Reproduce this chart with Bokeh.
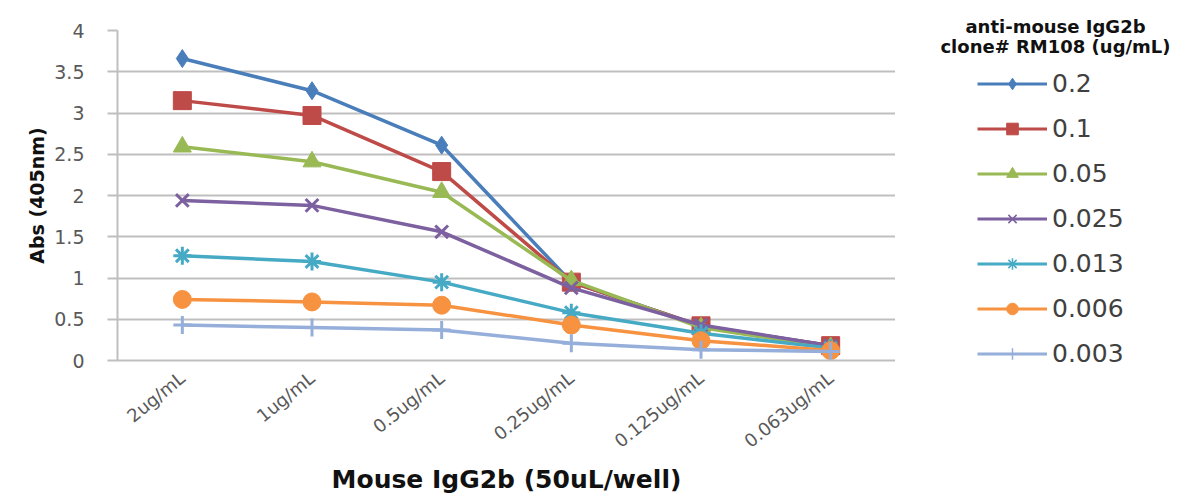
from bokeh.plotting import figure
from bokeh.models import FactorRange, Range1d, Legend, LegendItem, Label, FixedTicker
from bokeh.layouts import row
from bokeh.embed import file_html
from bokeh.resources import INLINE

categories = ["2ug/mL", "1ug/mL", "0.5ug/mL", "0.25ug/mL", "0.125ug/mL", "0.063ug/mL"]
series_names = ["0.2", "0.1", "0.05", "0.025", "0.013", "0.006", "0.003"]
s_02 = [3.66, 3.27, 2.61, 0.95, 0.42, 0.18]
s_01 = [3.15, 2.97, 2.29, 0.95, 0.42, 0.18]
s_005 = [2.59, 2.41, 2.04, 0.97, 0.40, 0.16]
s_0025 = [1.94, 1.88, 1.56, 0.88, 0.43, 0.18]
s_0013 = [1.27, 1.20, 0.95, 0.58, 0.33, 0.15]
s_0006 = [0.74, 0.71, 0.67, 0.43, 0.24, 0.12]
s_0003 = [0.43, 0.40, 0.37, 0.21, 0.13, 0.11]
y_ticks = [0, 0.5, 1, 1.5, 2, 2.5, 3, 3.5, 4]
legend_title = ["anti-mouse IgG2b", "clone# RM108 (ug/mL)"]

values = [s_02, s_01, s_005, s_0025, s_0013, s_0006, s_0003]
colors = ["#4A7EBB", "#BE4B48", "#98B954", "#7D60A0", "#46AAC5", "#F69240", "#95AEDA"]
markers = ["diamond", "square", "triangle", "x", "asterisk", "circle", "cross"]

FONT = "DejaVu Sans"
H = 496
left, top = 117, 30
frame_w, frame_h = 778, 330
bottom = H - top - frame_h
LW = 282

p = figure(width=left + frame_w, height=H, output_backend="svg", toolbar_location=None,
           x_range=FactorRange(*categories, range_padding=0), y_range=Range1d(0, 4),
           min_border_left=left, min_border_right=0, min_border_top=top,
           min_border_bottom=bottom, frame_align=False)
p.outline_line_color = None
p.background_fill_color = "white"

p.xgrid.grid_line_color = None
p.ygrid.grid_line_color = "#BFBFBF"
p.ygrid.grid_line_width = 2
p.yaxis.ticker = FixedTicker(ticks=y_ticks)
p.yaxis.major_label_overrides = {0: "0", 0.5: "0.5", 1: "1", 1.5: "1.5", 2: "2",
                                 2.5: "2.5", 3: "3", 3.5: "3.5", 4: "4"}
p.yaxis.minor_tick_line_color = None
p.yaxis.major_tick_out = 10
p.yaxis.major_tick_in = 0
p.yaxis.major_tick_line_color = "#BFBFBF"
p.yaxis.major_tick_line_width = 2
p.yaxis.axis_line_color = "#BFBFBF"
p.yaxis.axis_line_width = 2
p.yaxis.major_label_text_font = FONT
p.yaxis.major_label_text_font_size = "19px"
p.yaxis.major_label_text_color = "#595959"
p.yaxis.major_label_standoff = 23
p.yaxis.axis_label = "Abs (405nm)"
p.yaxis.axis_label_text_font = FONT
p.yaxis.axis_label_text_font_style = "bold"
p.yaxis.axis_label_text_font_size = "19px"
p.yaxis.axis_label_text_color = "#111111"
p.yaxis.axis_label_standoff = 3

p.xaxis.axis_line_color = "#BFBFBF"
p.xaxis.axis_line_width = 2
p.xaxis.major_tick_line_color = None
p.xaxis.minor_tick_line_color = None
p.xaxis.major_label_orientation = 0.68
p.xaxis.major_label_text_font = FONT
p.xaxis.major_label_text_font_size = "18px"
p.xaxis.major_label_text_color = "#595959"
p.xaxis.major_label_standoff = 9
p.xaxis.axis_label = "Mouse IgG2b (50uL/well)"
p.xaxis.axis_label_text_font = FONT
p.xaxis.axis_label_text_font_style = "bold"
p.xaxis.axis_label_text_font_size = "25px"
p.xaxis.axis_label_text_color = "#111111"
p.xaxis.axis_label_standoff = 2

# legend figure (series drawn off-view, only their legend glyphs show)
q = figure(width=LW, height=H, output_backend="svg", toolbar_location=None,
           x_range=FactorRange(*categories), y_range=Range1d(100, 101),
           x_axis_location=None, y_axis_location=None, min_border=0,
           frame_align=False)
q.outline_line_color = None
q.grid.visible = False

items = []
for name, vals, col, mk in zip(series_names, values, colors, markers):
    lw = 3 if mk in ("x", "asterisk", "cross") else 1
    p.line(categories, vals, line_color=col, line_width=3.5)
    p.scatter(categories, vals, marker=mk, size=18, fill_color=col,
              line_color=col, line_width=lw)
    ln = q.line(categories, vals, line_color=col, line_width=3)
    sc = q.scatter(categories, vals, marker=mk, size=9, fill_color=col,
                   line_color=col, line_width=1.5 if lw == 3 else 1)
    items.append(LegendItem(label=name, renderers=[ln, sc]))

legend = Legend(items=items, location=(82, 128), padding=0, margin=0,
                spacing=16, glyph_width=70, glyph_height=29, label_height=29,
                label_standoff=5, border_line_color=None, background_fill_alpha=0,
                label_text_font=FONT, label_text_font_size="25px",
                label_text_color="#404040")
q.add_layout(legend, "center")

for txt, yy in zip(legend_title, [470, 450]):
    q.add_layout(Label(x=160, y=yy, x_units="screen", y_units="screen",
                       text=txt, text_align="center", text_baseline="middle",
                       text_font=FONT, text_font_style="bold", text_font_size="18px",
                       text_color="#111111"))

open("out.html", "w").write(file_html(row(p, q), INLINE))
